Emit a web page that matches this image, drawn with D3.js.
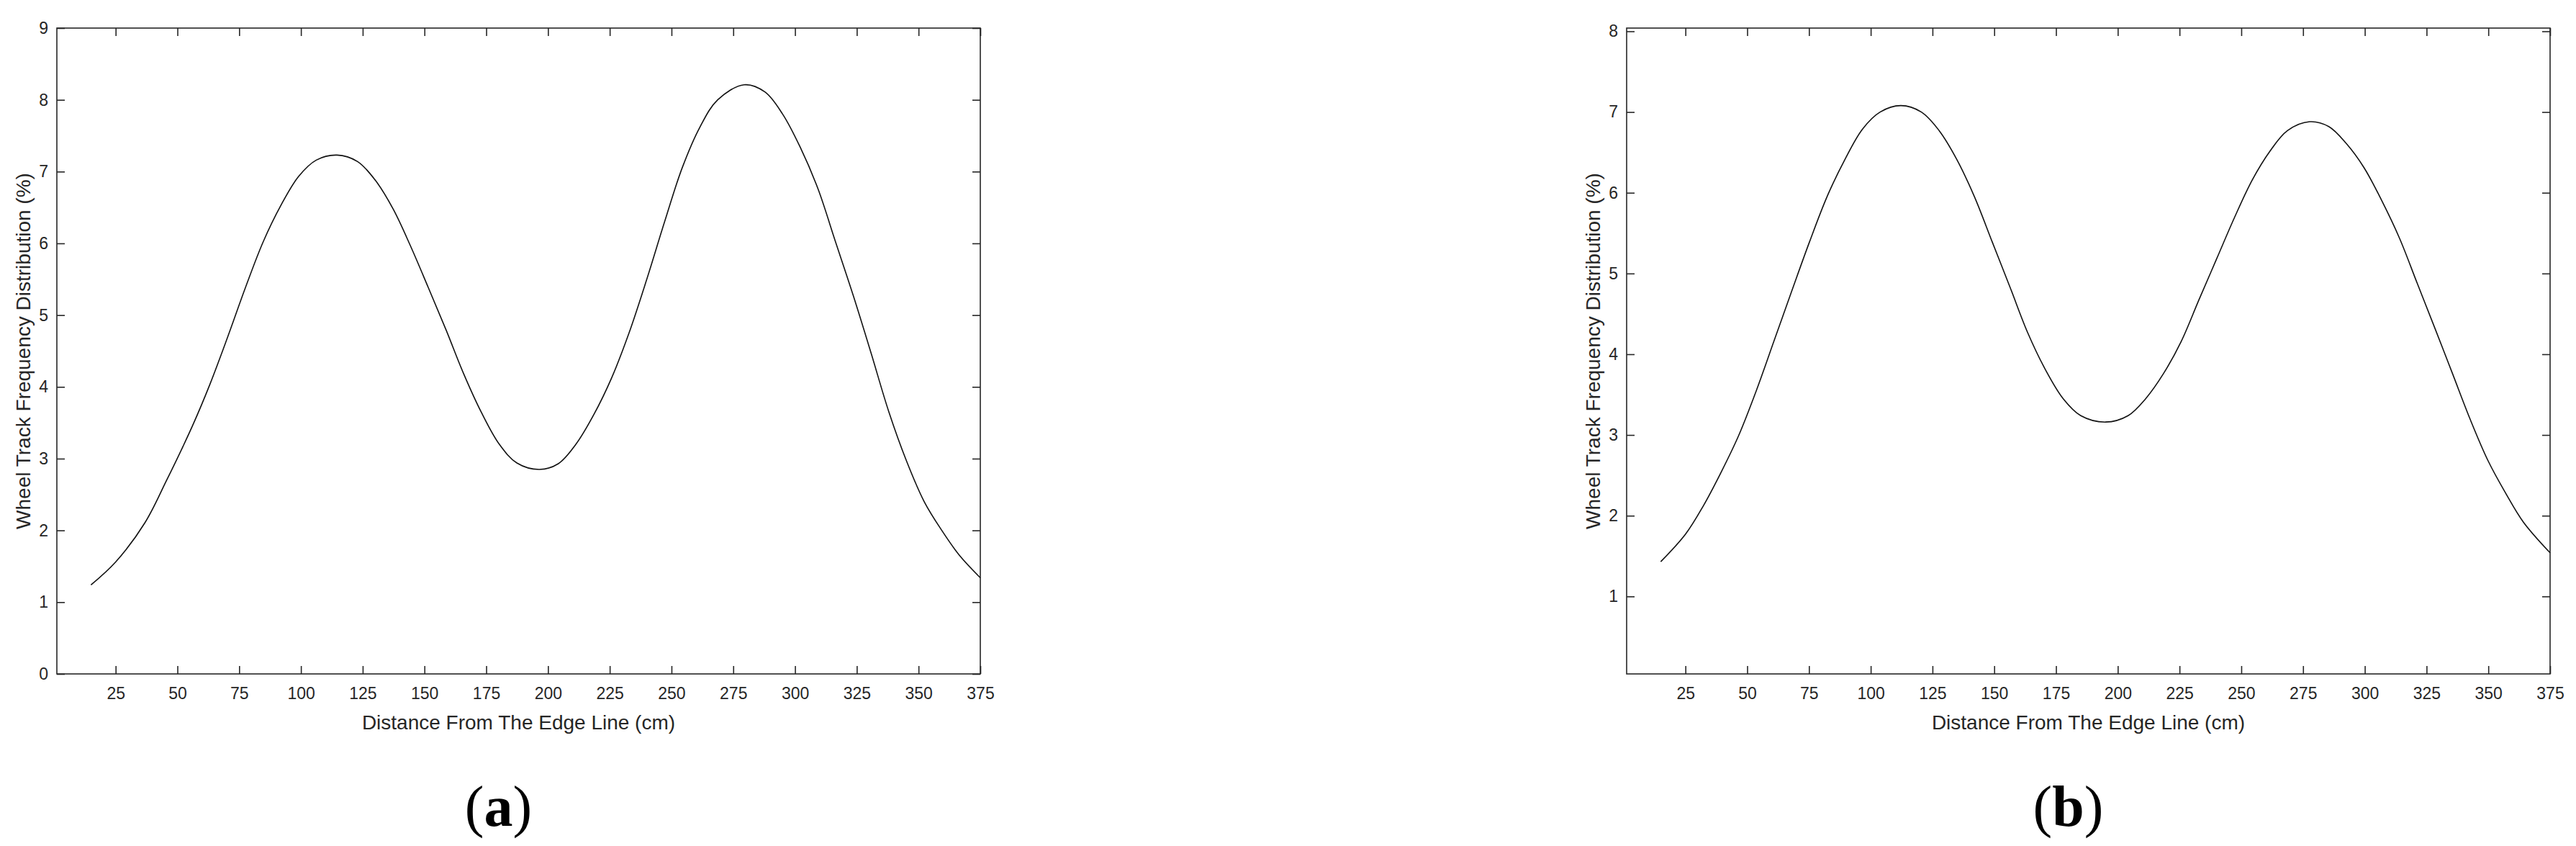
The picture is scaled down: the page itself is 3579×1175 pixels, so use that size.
<!DOCTYPE html>
<html>
<head>
<meta charset="utf-8">
<script src="https://cdn.jsdelivr.net/npm/d3@7"></script>
<style>
  body { margin: 0; background: #fff; }
  text { font-family: "Liberation Sans", Arial, sans-serif; fill: #262626; }
</style>
</head>
<body>
<div id="chart"></div>
<script>
// Data (distance in cm, frequency in %)
const distA = [15, 25, 36.9, 45.5, 56, 63.2, 70.4, 77.5, 84.7, 91.9, 99, 106.2, 114.6, 122.9, 130.1, 137.3,
  144.4, 151.6, 158.8, 165.9, 173.1, 180.3, 187.4, 196.5, 204.2, 211.3, 218.5, 225.7, 232.8, 240, 247.2,
  254.3, 261.5, 268.7, 279.4, 287.8, 295, 302.1, 309.3, 316.4, 323.6, 330.8, 337.9, 345.1, 352.3, 359.4, 366.6, 375];
const valueA = [1.24, 1.56, 2.11, 2.69, 3.45, 4.04, 4.70, 5.38, 6.02, 6.53, 6.93, 7.16, 7.23, 7.14, 6.88, 6.48,
  5.96, 5.38, 4.79, 4.18, 3.64, 3.20, 2.94, 2.85, 2.93, 3.20, 3.61, 4.12, 4.75, 5.50, 6.30,
  7.05, 7.62, 8.00, 8.21, 8.11, 7.80, 7.34, 6.76, 6.02, 5.27, 4.47, 3.66, 2.97, 2.40, 2.00, 1.65, 1.34];

const distB = [15, 25, 32.2, 39.3, 46.5, 53.7, 60.8, 68, 75.2, 82.3, 89.5, 96.7, 103.8, 112.2, 120.5, 127.7,
  134.9, 142, 149.2, 156.4, 163.5, 170.7, 177.9, 185, 195.1, 204.2, 211.3, 218.5, 225.7, 232.8, 240,
  247.2, 254.3, 261.5, 268.7, 277.7, 285.4, 292.5, 299.7, 306.9, 314, 321.2, 328.4, 335.5, 342.7,
  349.9, 357, 364.2, 375];
const valueB = [1.43, 1.77, 2.12, 2.53, 2.99, 3.55, 4.16, 4.78, 5.39, 5.95, 6.41, 6.79, 7.00, 7.08, 7.00, 6.77,
  6.41, 5.95, 5.39, 4.83, 4.27, 3.81, 3.45, 3.24, 3.16, 3.24, 3.45, 3.76, 4.16, 4.67, 5.18,
  5.69, 6.15, 6.51, 6.77, 6.88, 6.82, 6.61, 6.31, 5.90, 5.44, 4.88, 4.32, 3.76, 3.19,
  2.68, 2.28, 1.92, 1.54];

const xTicks = [25, 50, 75, 100, 125, 150, 175, 200, 225, 250, 275, 300, 325, 350, 375];
const yTicksA = [0, 1, 2, 3, 4, 5, 6, 7, 8, 9];
const yTicksB = [1, 2, 3, 4, 5, 6, 7, 8];
const xLabel = "Distance From The Edge Line (cm)";
const yLabel = "Wheel Track Frequency Distribution (%)";

const chartWidth = 3579;
const chartHeight = 1175;
const axisColor = "#262626";
const tickLen = 11;

const svg = d3.select("#chart")
    .append("svg")
    .attr("width", chartWidth)
    .attr("height", chartHeight);

function drawPanel(left, top, w, h, xs, ys, yDomain, yTicks, tag) {
    const xScale = d3.scaleLinear().domain([1.2, 375]).range([0, w]);
    const yScale = d3.scaleLinear().domain(yDomain).range([h, 0]);
    const g = svg.append("g").attr("transform", "translate(" + left + "," + top + ")");

    // bottom + left axes with labels, ticks pointing inward
    const xAxis = d3.axisBottom(xScale).tickValues(xTicks).tickSizeInner(-tickLen).tickSizeOuter(0).tickPadding(19);
    const yAxis = d3.axisLeft(yScale).tickValues(yTicks).tickSizeInner(-tickLen).tickSizeOuter(0).tickPadding(12);
    // mirrored ticks on top + right
    const xTop = d3.axisTop(xScale).tickValues(xTicks).tickSizeInner(-tickLen).tickSizeOuter(0).tickFormat("");
    const yRight = d3.axisRight(yScale).tickValues(yTicks).tickSizeInner(-tickLen).tickSizeOuter(0).tickFormat("");

    const gx = g.append("g").attr("transform", "translate(0," + h + ")").call(xAxis);
    const gy = g.append("g").call(yAxis);
    const gt = g.append("g").call(xTop);
    const gr = g.append("g").attr("transform", "translate(" + w + ",0)").call(yRight);

    [gx, gy, gt, gr].forEach(a => {
        a.select(".domain").remove();
        a.selectAll("line").attr("stroke", axisColor).attr("stroke-width", 1.6);
        a.selectAll("text").attr("font-size", 23).attr("fill", axisColor)
            .style("font-family", "'Liberation Sans', Arial, sans-serif");
    });

    g.append("rect")
        .attr("width", w).attr("height", h)
        .attr("fill", "none")
        .attr("stroke", axisColor)
        .attr("stroke-width", 1.6);

    const pts = xs.map((d, i) => ({x: d, y: ys[i]}));
    const line = d3.line()
        .curve(d3.curveCatmullRom.alpha(0.5))
        .x(d => xScale(d.x))
        .y(d => yScale(d.y));

    g.append("path")
        .datum(pts)
        .attr("fill", "none")
        .attr("stroke", "#111")
        .attr("stroke-width", 1.6)
        .attr("d", line);

    g.append("text")
        .attr("x", w / 2).attr("y", h + 77)
        .attr("text-anchor", "middle")
        .attr("font-size", 28)
        .text(xLabel);

    g.append("text")
        .attr("transform", "translate(-47," + (h / 2) + ") rotate(-90)")
        .attr("text-anchor", "middle")
        .attr("dy", "0.35em")
        .attr("font-size", 28)
        .text(yLabel);

    const cap = g.append("text")
        .attr("x", w / 2 - 28).attr("y", h + 211)
        .attr("text-anchor", "middle")
        .attr("font-size", 80)
        .style("font-family", "'Liberation Serif', 'Times New Roman', serif")
        .style("fill", "#000");
    cap.append("tspan").attr("font-weight", "normal").text("(");
    cap.append("tspan").attr("font-weight", "bold").text(tag);
    cap.append("tspan").attr("font-weight", "normal").text(")");
}

drawPanel(79, 39, 1283, 897, distA, valueA, [0, 9], yTicksA, "a");
drawPanel(2260, 39, 1283, 897, distB, valueB, [0.04, 8.04], yTicksB, "b");
</script>
</body>
</html>
